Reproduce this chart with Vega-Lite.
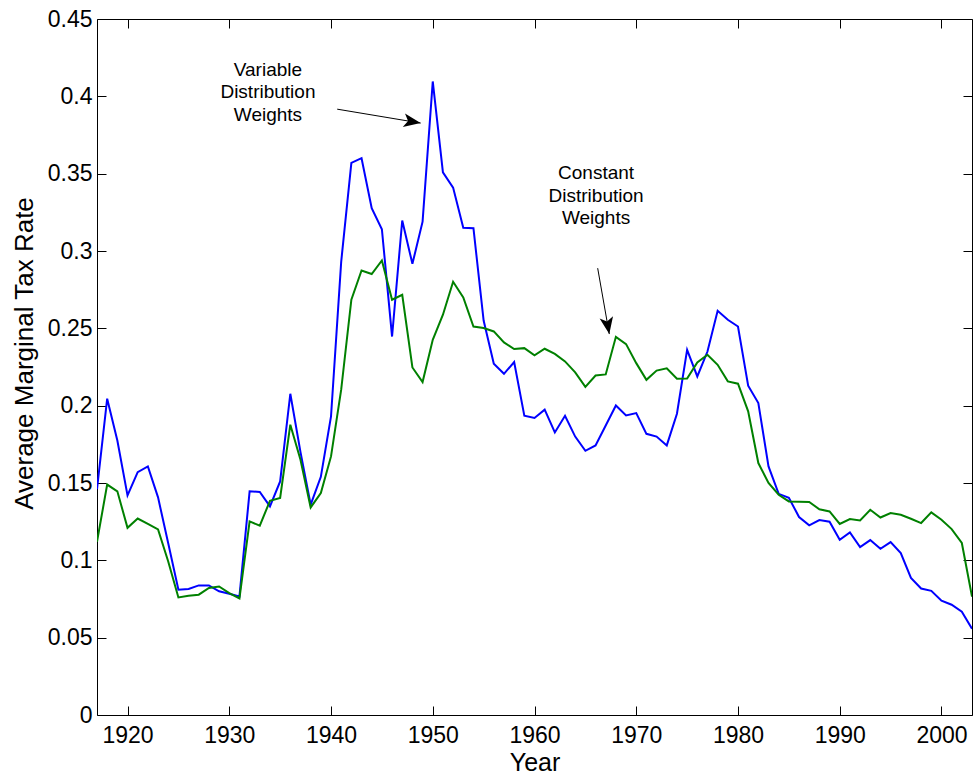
{
  "$schema": "https://vega.github.io/schema/vega-lite/v6.json",
  "width": 875,
  "height": 696,
  "autosize": {"type": "none"},
  "padding": {"left": 97, "top": 19, "right": 1, "bottom": 59},
  "background": "white",
  "config": {
    "view": {"stroke": null},
    "font": "Liberation Sans",
    "axis": {
      "domainColor": "black", "domainWidth": 1,
      "tickColor": "black", "tickWidth": 1, "tickSize": -9,
      "labelColor": "black", "titleColor": "black",
      "labelFont": "Liberation Sans", "titleFont": "Liberation Sans",
      "labelFontSize": 23, "titleFontSize": 25, "titleFontWeight": "normal",
      "grid": false
    }
  },
  "datasets": {
    "series": [
      {"year": 1917, "variable": 0.146, "constant": 0.112},
      {"year": 1918, "variable": 0.2045, "constant": 0.149},
      {"year": 1919, "variable": 0.1775, "constant": 0.1446},
      {"year": 1920, "variable": 0.142, "constant": 0.121},
      {"year": 1921, "variable": 0.157, "constant": 0.127},
      {"year": 1922, "variable": 0.1607, "constant": 0.1235},
      {"year": 1923, "variable": 0.1407, "constant": 0.12},
      {"year": 1924, "variable": 0.111, "constant": 0.0993},
      {"year": 1925, "variable": 0.081, "constant": 0.076},
      {"year": 1926, "variable": 0.0815, "constant": 0.0771},
      {"year": 1927, "variable": 0.0838, "constant": 0.0778},
      {"year": 1928, "variable": 0.0838, "constant": 0.0821},
      {"year": 1929, "variable": 0.08, "constant": 0.0831},
      {"year": 1930, "variable": 0.0784, "constant": 0.0788},
      {"year": 1931, "variable": 0.0767, "constant": 0.0754},
      {"year": 1932, "variable": 0.1446, "constant": 0.1252},
      {"year": 1933, "variable": 0.1442, "constant": 0.1224},
      {"year": 1934, "variable": 0.1349, "constant": 0.1385},
      {"year": 1935, "variable": 0.151, "constant": 0.1403},
      {"year": 1936, "variable": 0.2077, "constant": 0.1877},
      {"year": 1937, "variable": 0.17, "constant": 0.165},
      {"year": 1938, "variable": 0.136, "constant": 0.1342},
      {"year": 1939, "variable": 0.154, "constant": 0.1435},
      {"year": 1940, "variable": 0.193, "constant": 0.1672},
      {"year": 1941, "variable": 0.293, "constant": 0.2103},
      {"year": 1942, "variable": 0.357, "constant": 0.2685},
      {"year": 1943, "variable": 0.36, "constant": 0.2874},
      {"year": 1944, "variable": 0.3277, "constant": 0.2851},
      {"year": 1945, "variable": 0.3141, "constant": 0.2939},
      {"year": 1946, "variable": 0.2447, "constant": 0.2685},
      {"year": 1947, "variable": 0.3197, "constant": 0.2717},
      {"year": 1948, "variable": 0.2917, "constant": 0.2247},
      {"year": 1949, "variable": 0.319, "constant": 0.2153},
      {"year": 1950, "variable": 0.4096, "constant": 0.2426},
      {"year": 1951, "variable": 0.3508, "constant": 0.2588},
      {"year": 1952, "variable": 0.341, "constant": 0.2801},
      {"year": 1953, "variable": 0.315, "constant": 0.27},
      {"year": 1954, "variable": 0.3147, "constant": 0.2512},
      {"year": 1955, "variable": 0.255, "constant": 0.2502},
      {"year": 1956, "variable": 0.2271, "constant": 0.248},
      {"year": 1957, "variable": 0.2206, "constant": 0.2409},
      {"year": 1958, "variable": 0.2282, "constant": 0.2366},
      {"year": 1959, "variable": 0.1935, "constant": 0.2372},
      {"year": 1960, "variable": 0.192, "constant": 0.2325},
      {"year": 1961, "variable": 0.1974, "constant": 0.2368},
      {"year": 1962, "variable": 0.1827, "constant": 0.2335},
      {"year": 1963, "variable": 0.1935, "constant": 0.2286},
      {"year": 1964, "variable": 0.18, "constant": 0.2215},
      {"year": 1965, "variable": 0.1708, "constant": 0.2122},
      {"year": 1966, "variable": 0.1743, "constant": 0.2195},
      {"year": 1967, "variable": 0.1872, "constant": 0.2202},
      {"year": 1968, "variable": 0.2001, "constant": 0.2445},
      {"year": 1969, "variable": 0.1937, "constant": 0.2398},
      {"year": 1970, "variable": 0.1952, "constant": 0.2275},
      {"year": 1971, "variable": 0.1818, "constant": 0.2167},
      {"year": 1972, "variable": 0.18, "constant": 0.2227},
      {"year": 1973, "variable": 0.1743, "constant": 0.2242},
      {"year": 1974, "variable": 0.1948, "constant": 0.2174},
      {"year": 1975, "variable": 0.2361, "constant": 0.2175},
      {"year": 1976, "variable": 0.2189, "constant": 0.2279},
      {"year": 1977, "variable": 0.235, "constant": 0.2329},
      {"year": 1978, "variable": 0.2613, "constant": 0.2264},
      {"year": 1979, "variable": 0.2555, "constant": 0.2157},
      {"year": 1980, "variable": 0.2512, "constant": 0.2142},
      {"year": 1981, "variable": 0.2129, "constant": 0.1963},
      {"year": 1982, "variable": 0.2017, "constant": 0.1629},
      {"year": 1983, "variable": 0.1607, "constant": 0.15},
      {"year": 1984, "variable": 0.143, "constant": 0.1424},
      {"year": 1985, "variable": 0.1405, "constant": 0.1381},
      {"year": 1986, "variable": 0.128, "constant": 0.1379},
      {"year": 1987, "variable": 0.1226, "constant": 0.1377},
      {"year": 1988, "variable": 0.126, "constant": 0.133},
      {"year": 1989, "variable": 0.125, "constant": 0.1316},
      {"year": 1990, "variable": 0.1133, "constant": 0.1235},
      {"year": 1991, "variable": 0.118, "constant": 0.1267},
      {"year": 1992, "variable": 0.1086, "constant": 0.1258},
      {"year": 1993, "variable": 0.1131, "constant": 0.1327},
      {"year": 1994, "variable": 0.1075, "constant": 0.1277},
      {"year": 1995, "variable": 0.1118, "constant": 0.1306},
      {"year": 1996, "variable": 0.1047, "constant": 0.1295},
      {"year": 1997, "variable": 0.0886, "constant": 0.1269},
      {"year": 1998, "variable": 0.0818, "constant": 0.1241},
      {"year": 1999, "variable": 0.0803, "constant": 0.131},
      {"year": 2000, "variable": 0.0739, "constant": 0.1262},
      {"year": 2001, "variable": 0.0713, "constant": 0.1202},
      {"year": 2002, "variable": 0.0668, "constant": 0.1112},
      {"year": 2003, "variable": 0.0558, "constant": 0.0765}
    ],
    "notes": [
      {"id": "variable", "year": 1933.8, "value": 0.4171, "label": "Variable\nDistribution\nWeights"},
      {"id": "constant", "year": 1966.05, "value": 0.3504, "label": "Constant\nDistribution\nWeights"}
    ],
    "arrows": [
      {"id": "variable", "year": 1940.61, "value": 0.3917, "year2": 1948.81, "value2": 0.3827},
      {"id": "constant", "year": 1966.21, "value": 0.2889, "year2": 1967.35, "value2": 0.2463}
    ]
  },
  "resolve": {"axis": {"x": "independent", "y": "independent"}},
  "layer": [
    {
      "data": {"name": "series"},
      "mark": {"type": "line", "color": "#0000ff", "strokeWidth": 2, "clip": true},
      "encoding": {
        "x": {"field": "year", "type": "quantitative",
          "scale": {"domain": [1917, 2003], "nice": false, "zero": false},
          "axis": {"orient": "bottom", "values": [1920, 1930, 1940, 1950, 1960, 1970, 1980, 1990, 2000], "format": "d", "title": "Year", "labelPadding": 18, "titleBaseline": "alphabetic", "titleY": 55}},
        "y": {"field": "variable", "type": "quantitative",
          "scale": {"domain": [0, 0.45], "nice": false},
          "axis": {"orient": "left", "values": [0, 0.05, 0.1, 0.15, 0.2, 0.25, 0.3, 0.35, 0.4, 0.45], "format": "~g", "title": "Average Marginal Tax Rate", "labelPadding": 14, "titleAngle": -90, "titleBaseline": "alphabetic", "titleX": -64.5, "titleY": 334, "titleFontSize": 26, "titleAlign": "center"}}
      }
    },
    {
      "data": {"name": "series"},
      "mark": {"type": "line", "color": "#008000", "strokeWidth": 2, "clip": true},
      "encoding": {
        "x": {"field": "year", "type": "quantitative",
          "axis": {"orient": "top", "values": [1920, 1930, 1940, 1950, 1960, 1970, 1980, 1990, 2000], "labels": false, "title": null}},
        "y": {"field": "constant", "type": "quantitative",
          "axis": {"orient": "right", "values": [0, 0.05, 0.1, 0.15, 0.2, 0.25, 0.3, 0.35, 0.4, 0.45], "labels": false, "title": null}}
      }
    },
    {
      "data": {"name": "arrows"},
      "mark": {"type": "rule", "color": "black", "strokeWidth": 1},
      "encoding": {
        "x": {"field": "year", "type": "quantitative", "axis": null},
        "y": {"field": "value", "type": "quantitative", "axis": null},
        "x2": {"field": "year2"},
        "y2": {"field": "value2"}
      }
    },
    {
      "data": {"name": "arrows"},
      "transform": [{"filter": "datum.id === 'variable'"}],
      "mark": {"type": "point", "shape": "M0,0 L-0.8,2 L0,1.5 L0.8,2 Z", "size": 289, "angle": 99.5, "filled": true, "color": "black", "opacity": 1},
      "encoding": {
        "x": {"field": "year2", "type": "quantitative", "axis": null},
        "y": {"field": "value2", "type": "quantitative", "axis": null}
      }
    },
    {
      "data": {"name": "arrows"},
      "transform": [{"filter": "datum.id === 'constant'"}],
      "mark": {"type": "point", "shape": "M0,0 L-0.8,2 L0,1.5 L0.8,2 Z", "size": 289, "angle": 170, "filled": true, "color": "black", "opacity": 1},
      "encoding": {
        "x": {"field": "year2", "type": "quantitative", "axis": null},
        "y": {"field": "value2", "type": "quantitative", "axis": null}
      }
    },
    {
      "data": {"name": "notes"},
      "mark": {"type": "text", "font": "Liberation Sans", "fontSize": 19, "color": "black", "align": "center", "baseline": "middle", "lineBreak": "\n", "lineHeight": 22.5},
      "encoding": {
        "x": {"field": "year", "type": "quantitative", "axis": null},
        "y": {"field": "value", "type": "quantitative", "axis": null},
        "text": {"field": "label"}
      }
    }
  ]
}
